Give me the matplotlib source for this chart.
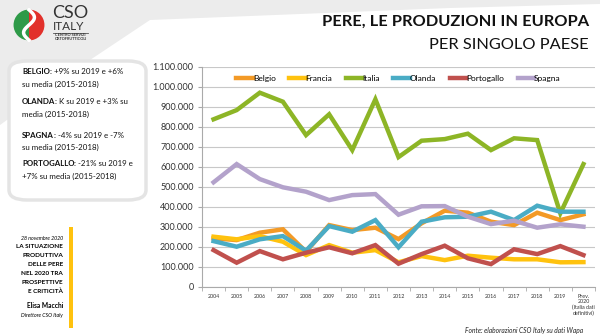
import numpy as np
import matplotlib
matplotlib.use("Agg")
import matplotlib.pyplot as plt
from matplotlib.patches import Polygon, FancyBboxPatch, Wedge, Rectangle

plt.rcParams['font.family'] = ['Lato', 'DejaVu Sans']

years = ['2004', '2005', '2006', '2007', '2008', '2009', '2010', '2011', '2012',
         '2013', '2014', '2015', '2016', '2017', '2018', '2019',
         'Prev.\n2020\n(Italia dati\ndefinitivi)']
belgio = [242, 233, 270, 287, 175, 308, 283, 295, 238, 317, 380, 370, 325, 308, 370, 333, 362]
francia = [250, 237, 253, 225, 158, 208, 170, 183, 122, 153, 133, 155, 145, 137, 137, 122, 123]
italia = [837, 883, 970, 925, 758, 862, 683, 937, 648, 730, 738, 765, 683, 742, 733, 367, 613]
olanda = [228, 200, 237, 253, 180, 303, 275, 333, 197, 325, 347, 350, 375, 333, 405, 375, 375]
portogallo = [183, 120, 178, 137, 170, 197, 167, 208, 115, 163, 205, 142, 113, 187, 163, 203, 158]
spagna = [522, 613, 538, 497, 475, 433, 458, 463, 360, 402, 403, 350, 313, 330, 295, 312, 300]

series = [('Belgio', belgio, '#F39A26'), ('Francia', francia, '#FFC20E'),
          ('Italia', italia, '#8DB526'), ('Olanda', olanda, '#4AACC5'),
          ('Portogallo', portogallo, '#C0504D'), ('Spagna', spagna, '#B3A2CB')]

W, H = 600, 335
fig = plt.figure(figsize=(6, 3.35), dpi=100)
fig.patch.set_facecolor('white')


def fx(x):
    return x / W


def fy(y):
    return 1 - y / H


# background shape of the slide
bg = Polygon([(fx(0), fy(0)), (fx(600), fy(0)), (fx(600), fy(4)), (fx(450), fy(8)),
              (fx(150), fy(20)), (fx(90), fy(60)), (fx(0), fy(125))],
             closed=True, transform=fig.transFigure, facecolor='#ececec', edgecolor='none', zorder=-5)
fig.patches.append(bg)

# logo
lax = fig.add_axes([fx(12), fy(42), fx(34), 34 / H], zorder=2)
lax.set_xlim(-1.1, 1.1)
lax.set_ylim(-1.1, 1.1)
lax.set_aspect('equal')
lax.axis('off')
lax.add_patch(Wedge((0, 0), 1, 90, 270, facecolor='#2E9A48'))
lax.add_patch(Wedge((0, 0), 1, -90, 90, facecolor='#E2312B'))
t = np.linspace(-1, 1, 50)
lax.plot(0.35 * np.sin(t * np.pi), t * 0.98, color='white', lw=2.5)
fig.text(fx(52), fy(12.5), 'CSO', fontsize=13, color='#333333', va='center', ha='left')
fig.text(fx(53), fy(26.5), 'ITALY', fontsize=8.5, color='#333333', va='center', ha='left')
fig.lines.append(plt.Line2D([fx(53), fx(88)], [fy(32.5), fy(32.5)], transform=fig.transFigure,
                            color='#555555', lw=0.6))
fig.text(fx(55), fy(35.5), 'CENTRO SERVIZI', fontsize=2.8, color='#333333', va='center', fontweight='bold')
fig.text(fx(55), fy(39.5), 'ORTOFRUTTICOLI', fontsize=2.8, color='#333333', va='center', fontweight='bold')

# title
fig.text(fx(589), fy(22), 'PERE, LE PRODUZIONI IN EUROPA', fontsize=11.8, fontweight='bold',
         ha='right', va='center', color='#111111')
fig.text(fx(589), fy(45), 'PER SINGOLO PAESE', fontsize=11.8, ha='right', va='center', color='#111111')

# left box
box = FancyBboxPatch((fx(9), fy(200)), fx(137), (200 - 61) / H,
                     boxstyle='round,pad=0,rounding_size=0.03', transform=fig.transFigure,
                     facecolor='white', edgecolor='#e4e4e4', lw=2.5, zorder=1)
fig.patches.append(box)
notes = [('BELGIO', ': +9% su 2019 e +6%', 'su media (2015-2018)', 72),
         ('OLANDA', ': K su 2019 e +3% su', 'media (2015-2018)', 102),
         ('SPAGNA', ': -4% su 2019 e -7%', 'su media (2015-2018)', 135),
         ('PORTOGALLO', ': -21% su 2019 e', '+7% su media (2015-2018)', 164)]
fs = 5.7
for name, rest, line2, y in notes:
    tb = fig.text(fx(22), fy(y), name, fontsize=fs, fontweight='bold', va='center', color='#111111', zorder=2)
    fig.canvas.draw()
    bb = tb.get_window_extent()
    fig.text(bb.x1 / fig.bbox.width, fy(y), rest, fontsize=fs, va='center', color='#111111', zorder=2)
    fig.text(fx(22), fy(y + 12.5), line2, fontsize=fs, va='center', color='#111111', zorder=2)

# lower left text
fig.patches.append(Rectangle((fx(69), fy(328)), fx(4), (328 - 227) / H, transform=fig.transFigure,
                             facecolor='#FFC20E', edgecolor='none'))
fig.text(fx(63), fy(239), '28 novembre 2020', fontsize=3.8, style='italic', ha='right', va='center')
for i, s in enumerate(['LA SITUAZIONE', 'PRODUTTIVA', 'DELLE PERE', 'NEL 2020 TRA',
                       'PROSPETTIVE', 'E CRITICITÀ']):
    fig.text(fx(63), fy(247 + i * 8.9), s, fontsize=4.6, fontweight='bold', ha='right', va='center')
fig.text(fx(63), fy(306), 'Elisa Macchi', fontsize=4.8, fontweight='bold', ha='right', va='center')
fig.text(fx(63), fy(315), 'Direttore CSO Italy', fontsize=3.8, style='italic', ha='right', va='center')

# chart
ax = fig.add_axes([fx(202), fy(286.7), fx(595 - 202), 220 / H])
x = np.arange(len(years))
for name, vals, col in series:
    ax.plot(x, np.array(vals) * 1000, color=col, lw=3.2, label=name, solid_joinstyle='miter')
ax.set_xlim(-0.5, len(years) - 0.5)
ax.set_ylim(0, 1100000)
yt = np.arange(0, 1100001, 100000)
ax.set_yticks(yt)
ax.set_yticklabels(['0' if v == 0 else f'{v:,}'.replace(',', '.') for v in yt],
                   fontsize=6.5, color='#333333')
ax.set_xticks(x)
ax.set_xticklabels(years, fontsize=3.9, color='#333333', linespacing=1.15, va='top')
ax.set_xticks(np.arange(-0.5, len(years), 1), minor=True)
ax.tick_params(axis='x', which='major', length=0, pad=5)
ax.tick_params(axis='x', which='minor', length=3, color='#aaaaaa')
ax.tick_params(axis='y', length=3, color='#aaaaaa', pad=3)
ax.grid(axis='y', color='#c8c8c8', lw=0.8)
ax.set_axisbelow(True)
for s in ['top', 'right']:
    ax.spines[s].set_visible(False)
ax.spines['left'].set_color('#aaaaaa')
ax.spines['bottom'].set_color('#aaaaaa')
ax.set_ylabel('tonnellate', fontsize=4.5, style='italic', labelpad=8)
leg = ax.legend(loc='upper center', bbox_to_anchor=(0.5, 0.995), ncol=6, frameon=False,
                fontsize=6, handlelength=2.0, handletextpad=0.0, columnspacing=1.6)

fig.text(fx(583), fy(330), 'Fonte: elaborazioni CSO Italy su dati Wapa', fontsize=4.8,
         style='italic', ha='right', va='center', color='#222222')

fig.savefig('out.png', dpi=100)
